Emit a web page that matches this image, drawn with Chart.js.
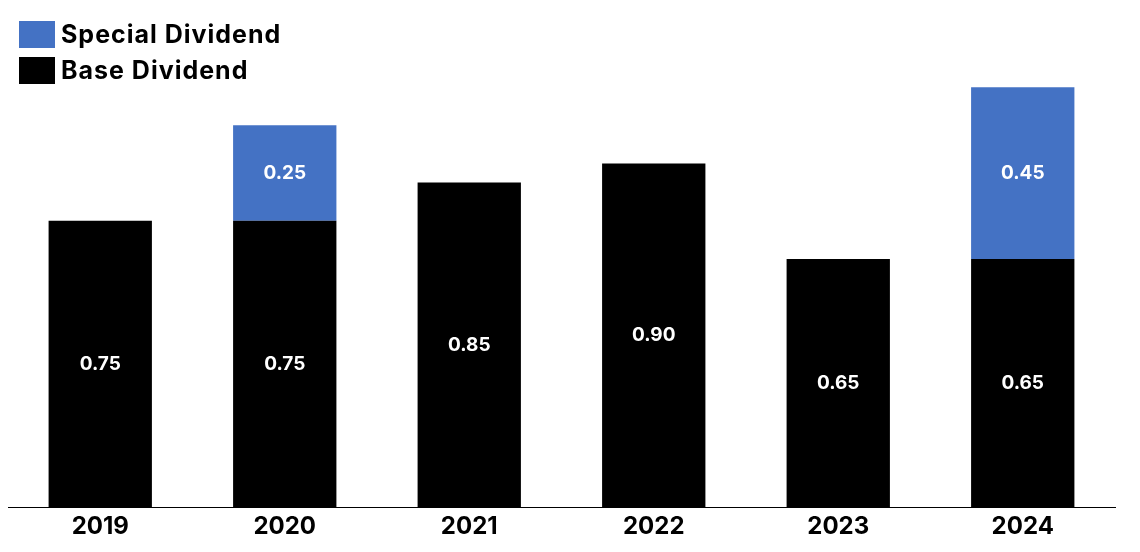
<!DOCTYPE html>
<html>
<head>
<meta charset="utf-8">
<script src="https://cdn.jsdelivr.net/npm/chart.js@4.4.0/dist/chart.umd.min.js"></script>
<style>
  html, body { margin: 0; padding: 0; background: #fff; }
  #wrap { position: relative; width: 1140px; height: 552px; }
  #legend { position: absolute; left: 19px; top: 16px; font-family: Inter, sans-serif; font-weight: 700; font-size: 25px; letter-spacing: 1px; color: #000; }
  .item { display: flex; align-items: center; height: 36px; }
  .box { width: 36px; height: 27px; margin-right: 6px; }
</style>
</head>
<body>
<div id="wrap">
  <canvas id="myChart" width="1140" height="552"></canvas>
  <div id="legend"></div>
</div>
<script>
const years = ['2019', '2020', '2021', '2022', '2023', '2024'];
const baseDividend = [0.75, 0.75, 0.85, 0.90, 0.65, 0.65];
const specialDividend = [null, 0.25, null, null, null, 0.45];

const BLUE = '#4472C4';

// labels in the middle of each bar segment
const barLabels = {
    id: 'barLabels',
    afterDatasetsDraw(chart) {
        const ctx = chart.ctx;
        ctx.save();
        ctx.fillStyle = '#fff';
        ctx.font = 'bold 19px Inter, sans-serif';
        ctx.textAlign = 'center';
        ctx.textBaseline = 'middle';
        chart.data.datasets.forEach((ds, i) => {
            chart.getDatasetMeta(i).data.forEach((bar, j) => {
                const v = ds.data[j];
                if (v == null) return;
                const mid = (bar.y + bar.base) / 2;
                ctx.fillText(v.toFixed(2), bar.x, mid);
            });
        });
        ctx.restore();
    }
};

const ctx = document.getElementById('myChart').getContext('2d');
const myChart = new Chart(ctx, {
    type: 'bar',
    data: {
        labels: years,
        datasets: [
            {
                label: 'Base Dividend',
                data: baseDividend,
                backgroundColor: '#000',
                barPercentage: 0.56,
                categoryPercentage: 1
            },
            {
                label: 'Special Dividend',
                data: specialDividend,
                backgroundColor: BLUE,
                barPercentage: 0.56,
                categoryPercentage: 1
            }
        ]
    },
    options: {
        responsive: false,
        animation: false,
        layout: { padding: { left: 8, right: 25, top: 49, bottom: 0 } },
        plugins: {
            legend: { display: false },
            tooltip: { enabled: false }
        },
        scales: {
            x: {
                stacked: true,
                grid: { display: false },
                border: { display: true, color: '#000', width: 1 },
                afterFit(scale) { scale.height = 45; },
                ticks: {
                    color: '#000',
                    padding: -3,
                    font: { family: 'Inter', size: 24, weight: 'bold' }
                }
            },
            y: {
                stacked: true,
                display: false,
                min: 0,
                max: 1.2
            }
        }
    },
    plugins: [barLabels]
});

// legend stacked vertically, special first
const legendEl = document.getElementById('legend');
[1, 0].forEach(i => {
    const ds = myChart.data.datasets[i];
    const row = document.createElement('div');
    row.className = 'item';
    row.innerHTML = `<span class="box" style="background:${ds.backgroundColor}"></span>${ds.label}`;
    legendEl.appendChild(row);
});
</script>
</body>
</html>
